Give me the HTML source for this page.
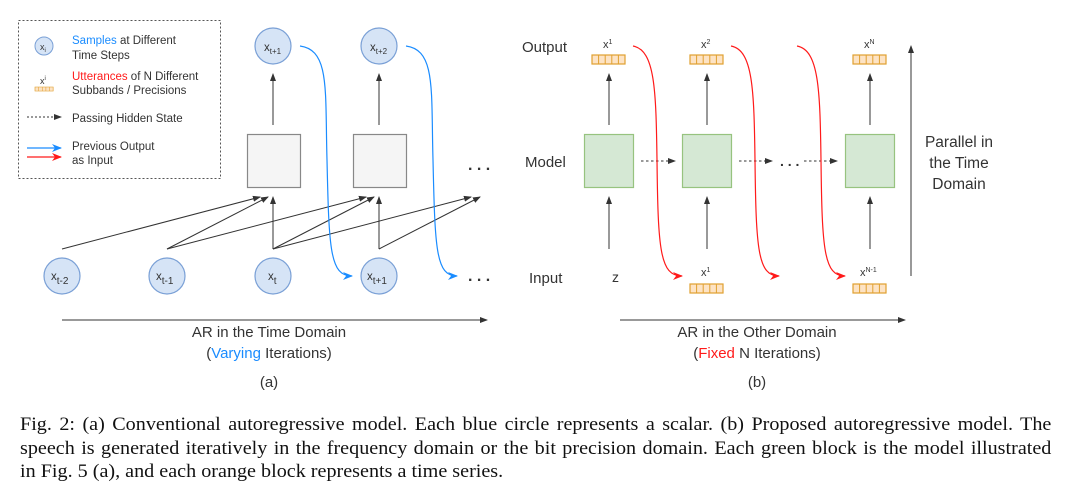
<!DOCTYPE html>
<html><head><meta charset="utf-8"><style>
body{margin:0;background:#fff;width:1065px;height:490px;overflow:hidden;position:relative}
svg{position:absolute;left:0;top:0}
svg text{font-family:"Liberation Sans",sans-serif;fill:#333}
.cap{position:absolute;left:20px;width:973px;font-family:"Liberation Serif",serif;font-size:19px;line-height:23.5px;color:#111;white-space:nowrap;transform:scaleX(1.06);transform-origin:0 0}
.j{text-align:justify;text-align-last:justify}
</style></head><body>
<svg width="1065" height="410" viewBox="0 0 1065 410">
<defs>
<marker id="ak" markerWidth="8" markerHeight="8" refX="7" refY="4" orient="auto" markerUnits="userSpaceOnUse"><path d="M0,1 L8,4 L0,7 Z" fill="#333"/></marker>
<marker id="ab" markerWidth="10" markerHeight="8" refX="9" refY="4" orient="auto" markerUnits="userSpaceOnUse"><path d="M0,0 L10,4 L0,8 L3,4 Z" fill="#1a8cff"/></marker>
<marker id="ar" markerWidth="10" markerHeight="8" refX="9" refY="4" orient="auto" markerUnits="userSpaceOnUse"><path d="M0,0 L10,4 L0,8 L3,4 Z" fill="#ff1a1a"/></marker>
<g id="ob"><rect x="0" y="0" width="33" height="9" fill="#fde3c4" stroke="#e0a030" stroke-width="1.2"/><path d="M6.6,0V9M13.2,0V9M19.8,0V9M26.4,0V9" stroke="#e0a030" stroke-width="1"/></g>
</defs>
<rect x="18.5" y="20.5" width="202" height="158" fill="none" stroke="#555" stroke-dasharray="2,2"/>
<circle cx="44" cy="46" r="9" fill="#d6e4f6" stroke="#7aa0d6"/>
<text x="40" y="50" font-size="9">x<tspan font-size="6" dy="2">i</tspan></text>
<text x="72" y="44" font-size="11.5"><tspan fill="#1a8cff">Samples</tspan> at Different</text>
<text x="72" y="59" font-size="11.5">Time Steps</text>
<text x="40" y="84" font-size="9">x<tspan font-size="6" dy="-4">i</tspan></text>
<g transform="translate(35,87) scale(0.55,0.45)"><use href="#ob"/></g>
<text x="72" y="80" font-size="11.5"><tspan fill="#ff1a1a">Utterances</tspan> of N Different</text>
<text x="72" y="94" font-size="11.5">Subbands / Precisions</text>
<line x1="27" y1="117" x2="61" y2="117" stroke="#333" stroke-dasharray="2,2" marker-end="url(#ak)"/>
<text x="72" y="122" font-size="11.5">Passing Hidden State</text>
<line x1="27" y1="148" x2="61" y2="148" stroke="#1a8cff" stroke-width="1.3" marker-end="url(#ab)"/>
<line x1="27" y1="157" x2="61" y2="157" stroke="#ff1a1a" stroke-width="1.3" marker-end="url(#ar)"/>
<text x="72" y="150" font-size="11.5">Previous Output</text>
<text x="72" y="164" font-size="11.5">as Input</text>
<g fill="#d6e4f6" stroke="#7aa0d6" stroke-width="1.2">
<circle cx="273" cy="46" r="18"/><circle cx="379" cy="46" r="18"/>
<circle cx="62" cy="276" r="18"/><circle cx="167" cy="276" r="18"/><circle cx="273" cy="276" r="18"/><circle cx="379" cy="276" r="18"/>
</g>
<g font-size="11.5" fill="#222">
<text x="264" y="51">x<tspan font-size="8" dy="3">t+1</tspan></text>
<text x="370" y="51">x<tspan font-size="8" dy="3">t+2</tspan></text>
<text x="51" y="280">x<tspan font-size="10" dy="4">t-2</tspan></text>
<text x="156" y="280">x<tspan font-size="10" dy="4">t-1</tspan></text>
<text x="268" y="280">x<tspan font-size="10" dy="4">t</tspan></text>
<text x="367" y="280">x<tspan font-size="10" dy="4">t+1</tspan></text>
</g>
<rect x="247.5" y="134.5" width="53" height="53" fill="#f5f5f5" stroke="#888" stroke-width="1.2"/>
<rect x="353.5" y="134.5" width="53" height="53" fill="#f5f5f5" stroke="#888" stroke-width="1.2"/>
<g stroke="#333" stroke-width="1" fill="none" marker-end="url(#ak)">
<line x1="273" y1="125" x2="273" y2="74"/><line x1="379" y1="125" x2="379" y2="74"/>
<line x1="62" y1="249" x2="260" y2="197"/>
<line x1="167" y1="249" x2="268" y2="197"/>
<line x1="167" y1="249" x2="366" y2="197"/>
<line x1="273" y1="249" x2="273" y2="197"/>
<line x1="273" y1="249" x2="374" y2="197"/>
<line x1="273" y1="249" x2="471" y2="197"/>
<line x1="379" y1="249" x2="379" y2="197"/>
<line x1="379" y1="249" x2="480" y2="197"/>
</g>
<g stroke="#1a8cff" stroke-width="1.2" fill="none" marker-end="url(#ab)">
<path d="M300,46 C330,50 325,90 327,160 C329,250 330,276 352,276"/>
<path d="M406,46 C436,50 431,90 433,160 C435,250 436,276 457,276"/>
</g>
<text x="468" y="170" font-size="16" font-weight="bold" fill="#222">. . .</text>
<text x="468" y="281" font-size="16" font-weight="bold" fill="#222">. . .</text>
<text x="522" y="52" font-size="15">Output</text>
<text x="525" y="167" font-size="15">Model</text>
<text x="529" y="283" font-size="15">Input</text>
<text x="603" y="48" font-size="11" fill="#222">x<tspan font-size="7" dy="-4">1</tspan></text>
<text x="701" y="48" font-size="11" fill="#222">x<tspan font-size="7" dy="-4">2</tspan></text>
<text x="864" y="48" font-size="11" fill="#222">x<tspan font-size="7" dy="-4">N</tspan></text>
<use href="#ob" x="592" y="55"/><use href="#ob" x="690" y="55"/><use href="#ob" x="853" y="55"/>
<text x="612" y="282" font-size="14" fill="#222">z</text>
<text x="701" y="276" font-size="11" fill="#222">x<tspan font-size="7" dy="-4">1</tspan></text>
<text x="860" y="276" font-size="11" fill="#222">x<tspan font-size="7" dy="-4">N-1</tspan></text>
<use href="#ob" x="690" y="284"/><use href="#ob" x="853" y="284"/>
<g fill="#d5e8d4" stroke="#97c37f" stroke-width="1.2">
<rect x="584.5" y="134.5" width="49" height="53"/><rect x="682.5" y="134.5" width="49" height="53"/><rect x="845.5" y="134.5" width="49" height="53"/>
</g>
<g stroke="#333" stroke-width="1" fill="none" marker-end="url(#ak)">
<line x1="609" y1="125" x2="609" y2="74"/><line x1="707" y1="125" x2="707" y2="74"/><line x1="870" y1="125" x2="870" y2="74"/>
<line x1="609" y1="249" x2="609" y2="197"/><line x1="707" y1="249" x2="707" y2="197"/><line x1="870" y1="249" x2="870" y2="197"/>
<line x1="911" y1="276" x2="911" y2="46"/>
</g>
<g stroke="#333" stroke-width="1" fill="none" stroke-dasharray="2.5,2.5" marker-end="url(#ak)">
<line x1="641" y1="161" x2="675" y2="161"/><line x1="739" y1="161" x2="772" y2="161"/><line x1="804" y1="161" x2="837" y2="161"/>
</g>
<text x="780" y="166" font-size="14" font-weight="bold" fill="#222">. . .</text>
<g stroke="#ff1a1a" stroke-width="1.2" fill="none" marker-end="url(#ar)">
<path d="M633,46 C655,50 656,90 657,160 C658,250 660,276 682,276"/>
<path d="M731,46 C753,50 754,90 755,160 C756,250 758,276 779,276"/>
<path d="M797,46 C819,50 820,90 821,160 C822,250 824,276 845,276"/>
</g>
<g font-size="15.5" text-anchor="middle"><text x="959" y="147">Parallel in</text><text x="959" y="168">the Time</text><text x="959" y="189">Domain</text></g>
<line x1="62" y1="320" x2="487" y2="320" stroke="#333" marker-end="url(#ak)"/>
<line x1="620" y1="320" x2="905" y2="320" stroke="#333" marker-end="url(#ak)"/>
<g font-size="15" text-anchor="middle">
<text x="269" y="337">AR in the Time Domain</text>
<text x="269" y="358">(<tspan fill="#1a8cff">Varying</tspan> Iterations)</text>
<text x="269" y="387">(a)</text>
<text x="757" y="337">AR in the Other Domain</text>
<text x="757" y="358">(<tspan fill="#ff1a1a">Fixed</tspan> N Iterations)</text>
<text x="757" y="387">(b)</text>
</g>
</svg>
<div class="cap j" style="top:413px">Fig. 2: (a) Conventional autoregressive model. Each blue circle represents a scalar. (b) Proposed autoregressive model. The</div>
<div class="cap j" style="top:436.5px">speech is generated iteratively in the frequency domain or the bit precision domain. Each green block is the model illustrated</div>
<div class="cap" style="top:460px">in Fig. 5 (a), and each orange block represents a time series.</div>
</body></html>
